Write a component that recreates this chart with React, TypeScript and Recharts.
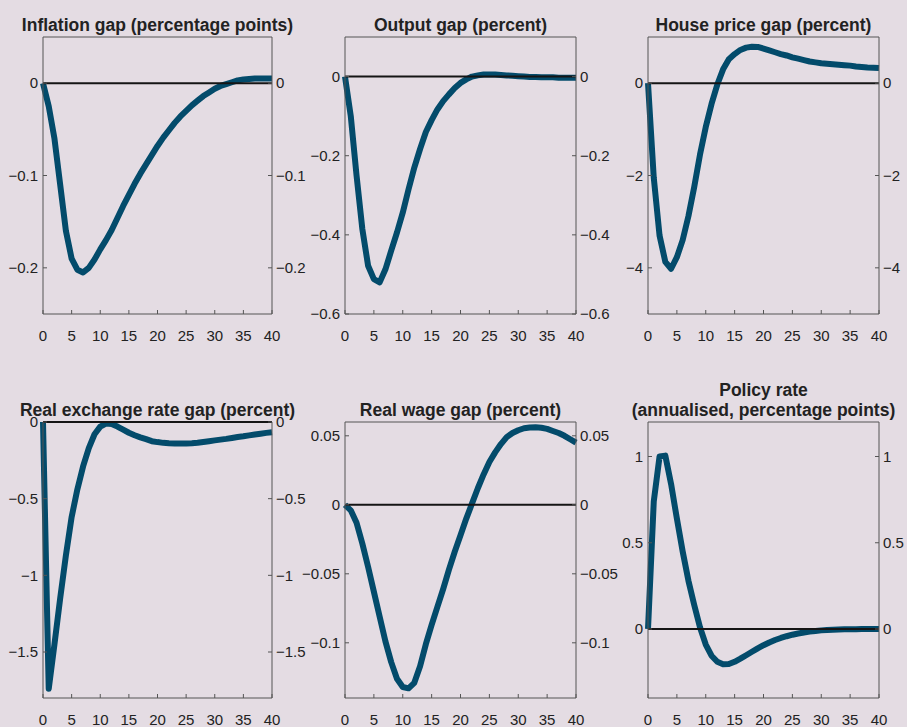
import { LineChart, Line, XAxis, YAxis, ReferenceLine } from "recharts"

// quarters after the shock
const quarters = Array.from({ length: 41 }, (_, i) => i)
const xTicks = [0, 5, 10, 15, 20, 25, 30, 35, 40]

const inflationGap = [
  0, -0.025, -0.06, -0.11, -0.16, -0.19, -0.202, -0.205, -0.2, -0.191,
  -0.18, -0.17, -0.159, -0.146, -0.133, -0.121, -0.109, -0.098, -0.088, -0.078,
  -0.068, -0.059, -0.051, -0.043, -0.036, -0.03, -0.024, -0.019, -0.014, -0.01,
  -0.006, -0.003, -0.001, 0.001, 0.003, 0.004, 0.0045, 0.005, 0.005, 0.005, 0.005,
]
const outputGap = [
  0, -0.1, -0.25, -0.385, -0.478, -0.512, -0.52, -0.487, -0.44, -0.394,
  -0.344, -0.285, -0.23, -0.183, -0.14, -0.11, -0.083, -0.062, -0.045, -0.029,
  -0.016, -0.007, 0, 0.003, 0.005, 0.005, 0.005, 0.004, 0.003, 0.002,
  0.001, 0, -0.001, -0.001, -0.002, -0.002, -0.002, -0.003, -0.003, -0.003, -0.003,
]
const housePriceGap = [
  0, -2.05, -3.3, -3.87, -4.02, -3.77, -3.4, -2.88, -2.25, -1.55,
  -0.95, -0.45, -0.03, 0.3, 0.52, 0.63, 0.72, 0.77, 0.79, 0.785,
  0.75, 0.71, 0.67, 0.63, 0.6, 0.56, 0.53, 0.5, 0.47, 0.45,
  0.43, 0.42, 0.41, 0.4, 0.39, 0.38, 0.36, 0.35, 0.34, 0.335, 0.33,
]
const realExchangeRateGap = [
  0, -1.74, -1.45, -1.15, -0.87, -0.62, -0.44, -0.29, -0.17, -0.08,
  -0.03, -0.01, -0.013, -0.03, -0.05, -0.07, -0.086, -0.1, -0.112, -0.125,
  -0.131, -0.136, -0.139, -0.14, -0.141, -0.14, -0.138, -0.135, -0.13, -0.125,
  -0.12, -0.115, -0.11, -0.104, -0.098, -0.093, -0.087, -0.081, -0.076, -0.071, -0.067,
]
const realWageGap = [
  0, -0.004, -0.013, -0.028, -0.045, -0.063, -0.081, -0.099, -0.114, -0.126,
  -0.132, -0.133, -0.129, -0.117, -0.101, -0.087, -0.074, -0.061, -0.047, -0.034,
  -0.022, -0.01, 0.001, 0.012, 0.022, 0.031, 0.038, 0.044, 0.049, 0.052,
  0.054, 0.0555, 0.056, 0.0562, 0.0558, 0.055, 0.0535, 0.052, 0.05, 0.0475, 0.045,
]
const policyRate = [
  0, 0.74, 1.0, 1.005, 0.84, 0.64, 0.45, 0.28, 0.14, 0.01,
  -0.09, -0.155, -0.19, -0.204, -0.203, -0.19, -0.172, -0.152, -0.132, -0.112,
  -0.094, -0.078, -0.064, -0.052, -0.042, -0.033, -0.026, -0.02, -0.015, -0.011,
  -0.008, -0.006, -0.004, -0.003, -0.002, -0.001, -0.001, 0, 0, 0, 0,
]

const inflationTicks = [-0.2, -0.1, 0]
const outputTicks = [-0.6, -0.4, -0.2, 0]
const houseTicks = [-4, -2, 0]
const exchangeTicks = [-1.5, -1, -0.5, 0]
const wageTicks = [-0.1, -0.05, 0, 0.05]
const policyTicks = [0, 0.5, 1]

const BG = "#e4dce3"
const LINE = "#034b6b"
const AXIS = "#555"
const TEXT = "#222"
const FONT = '"Liberation Sans", Arial, sans-serif'
const AX = 50
const MT = 14
const TICK_FS = 15

const fmt = (v: number) => (v < 0 ? "\u2212" + String(Math.abs(v)) : String(v))

interface PanelProps {
  title: string[]
  values: number[]
  domain: [number, number]
  ticks: number[]
  left: number
  top: number
  width: number
  height: number
}

function Panel({ title, values, domain, ticks, left, top, width, height }: PanelProps) {
  const data = quarters.map((q, i) => ({ q, v: values[i] }))
  const titleTop = top - 2 - title.length * 20
  const tick = { fill: TEXT, fontSize: TICK_FS }
  return (
    <>
      <div
        style={{
          position: "absolute",
          left: left - 80,
          width: width + 160,
          top: titleTop,
          textAlign: "center",
          fontWeight: "bold",
          fontSize: 17.5,
          lineHeight: "20px",
          color: TEXT,
          whiteSpace: "nowrap",
        }}
      >
        {title.map((t) => (
          <div key={t}>{t}</div>
        ))}
      </div>
      <div style={{ position: "absolute", left: left - AX, top: top - MT, fontSize: TICK_FS }}>
        <LineChart
          width={width + 2 * AX}
          height={height + MT + 40}
          data={data}
          margin={{ top: MT, right: 0, bottom: 0, left: 0 }}
        >
          <XAxis
            dataKey="q"
            type="number"
            domain={[0, 40]}
            ticks={xTicks}
            interval={0}
            height={40}
            tickSize={-4}
            tickMargin={20}
            stroke={AXIS}
            fontSize={TICK_FS}
            tick={tick}
          />
          <YAxis
            yAxisId="l"
            type="number"
            domain={domain}
            ticks={ticks}
            interval={0}
            allowDataOverflow
            width={AX}
            tickSize={-4}
            tickMargin={9}
            tickFormatter={fmt}
            stroke={AXIS}
            fontSize={TICK_FS}
            tick={tick}
          />
          <YAxis
            yAxisId="r"
            orientation="right"
            type="number"
            domain={domain}
            ticks={ticks}
            interval={0}
            allowDataOverflow
            width={AX}
            tickSize={-4}
            tickMargin={8}
            tickFormatter={fmt}
            stroke={AXIS}
            fontSize={TICK_FS}
            tick={tick}
          />
          <ReferenceLine yAxisId="l" y={domain[1]} stroke={AXIS} strokeWidth={1} />
          <Line
            yAxisId="l"
            dataKey="v"
            type="linear"
            stroke={LINE}
            strokeWidth={6}
            strokeLinejoin="round"
            dot={false}
            isAnimationActive={false}
          />
          <ReferenceLine yAxisId="l" y={0} stroke="#151515" strokeWidth={2} />
        </LineChart>
      </div>
    </>
  )
}

export default function App() {
  return (
    <div
      style={{
        position: "absolute",
        left: 0,
        top: 0,
        width: 907,
        height: 727,
        background: BG,
        fontFamily: FONT,
        overflow: "hidden",
      }}
    >
      <Panel title={["Inflation gap (percentage points)"]} values={inflationGap} domain={[-0.25, 0.05]} ticks={inflationTicks} left={43} top={37} width={229} height={277} />
      <Panel title={["Output gap (percent)"]} values={outputGap} domain={[-0.6, 0.1]} ticks={outputTicks} left={345} top={37} width={231} height={277} />
      <Panel title={["House price gap (percent)"]} values={housePriceGap} domain={[-5, 1]} ticks={houseTicks} left={648} top={37} width={231} height={277} />
      <Panel title={["Real exchange rate gap (percent)"]} values={realExchangeRateGap} domain={[-1.8, 0]} ticks={exchangeTicks} left={43} top={422} width={229} height={276} />
      <Panel title={["Real wage gap (percent)"]} values={realWageGap} domain={[-0.14, 0.06]} ticks={wageTicks} left={345} top={422} width={231} height={276} />
      <Panel title={["Policy rate", "(annualised, percentage points)"]} values={policyRate} domain={[-0.4, 1.2]} ticks={policyTicks} left={648} top={422} width={231} height={276} />
    </div>
  )
}
